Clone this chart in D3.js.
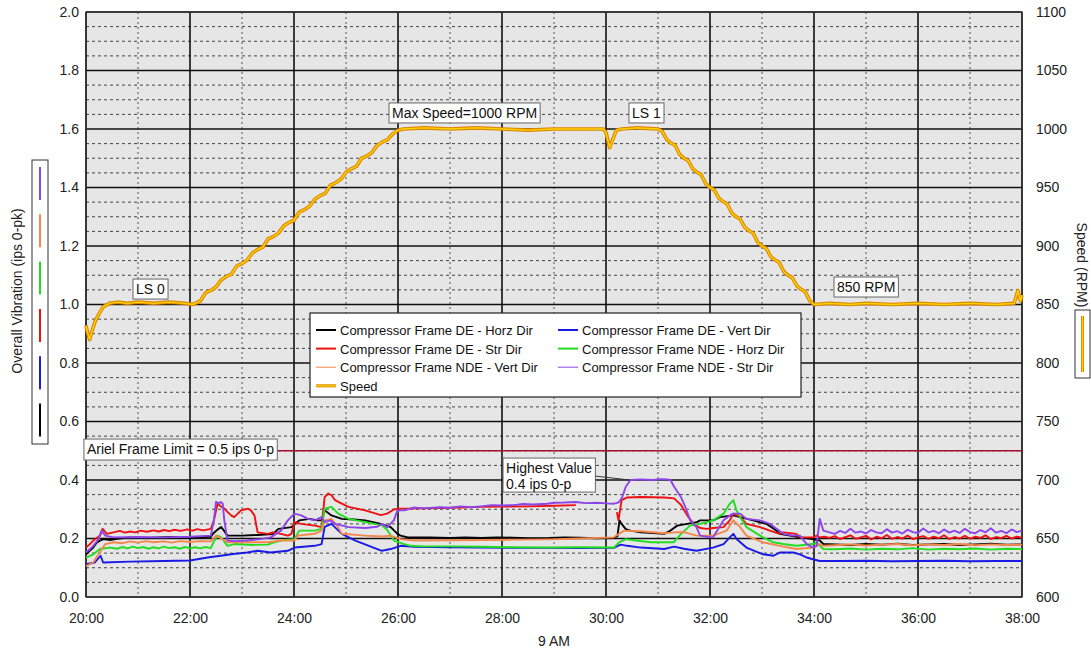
<!DOCTYPE html>
<html><head><meta charset="utf-8">
<script src="https://cdn.jsdelivr.net/npm/d3@7"></script>
<style>
body{margin:0;background:#fff;}
text{font-family:"Liberation Sans",Arial,sans-serif;}
</style>
</head><body>
<svg id="chart" width="1091" height="652"></svg>
<script>
// ---------- data ----------
const xTicks = [20,22,24,26,28,30,32,34,36,38];
const xTickLabels = ["20:00","22:00","24:00","26:00","28:00","30:00","32:00","34:00","36:00","38:00"];
const yLeftTicks = [0,0.2,0.4,0.6,0.8,1.0,1.2,1.4,1.6,1.8,2.0];
const yRightTicks = [600,650,700,750,800,850,900,950,1000,1050,1100];
const seriesNames = ["Compressor Frame DE - Horz Dir","Compressor Frame DE - Vert Dir","Compressor Frame DE - Str Dir","Compressor Frame NDE - Horz Dir","Compressor Frame NDE - Vert Dir","Compressor Frame NDE - Str Dir","Speed"];
const seriesColors = ["#000000","#1a1ae6","#ee1111","#22dd22","#f4874b","#8d44e8","#ffd400"];

const deHorz = [[20.0,.146],[20.07,.158],[20.14,.169],[20.2,.185],[20.27,.193],[20.34,.198],[20.46,.195],[20.6,.199],[20.85,.204],[21.2,.202],[21.6,.205],[22.0,.203],[22.4,.206],[22.46,.22],[22.55,.233],[22.6,.239],[22.66,.225],[22.72,.21],[23.0,.21],[23.3,.212],[23.59,.215],[23.7,.233],[23.95,.239],[24.02,.25],[24.1,.262],[24.3,.267],[24.45,.262],[24.53,.262],[24.59,.296],[24.64,.29],[24.72,.279],[24.92,.267],[25.15,.265],[25.37,.262],[25.67,.25],[25.86,.239],[25.99,.216],[26.05,.21],[26.19,.204],[26.6,.204],[27.0,.202],[27.3,.204],[27.6,.202],[27.9,.204],[28.2,.203],[28.5,.201],[28.9,.202],[29.2,.204],[29.5,.203],[29.8,.201],[30.15,.202],[30.22,.208],[30.26,.262],[30.3,.25],[30.38,.232],[30.47,.227],[30.67,.221],[30.9,.219],[31.12,.216],[31.24,.227],[31.37,.244],[31.56,.25],[31.75,.256],[31.81,.262],[32.06,.262],[32.19,.273],[32.45,.279],[32.58,.273],[32.83,.262],[33.09,.25],[33.28,.227],[33.34,.216],[33.54,.21],[33.73,.204],[33.98,.198],[34.11,.193],[34.18,.181],[34.4,.18],[34.7,.178],[35.0,.181],[35.3,.179],[35.6,.182],[35.9,.178],[36.2,.18],[36.5,.181],[36.8,.178],[37.1,.18],[37.4,.182],[37.7,.179],[38.0,.18]];

const deVert = [[20.0,.112],[20.17,.118],[20.28,.141],[20.33,.118],[20.85,.121],[21.5,.123],[22.0,.125],[22.34,.135],[22.59,.141],[22.79,.146],[23.1,.152],[23.3,.158],[23.55,.152],[23.88,.158],[24.01,.169],[24.4,.175],[24.53,.181],[24.59,.24],[24.72,.25],[24.92,.216],[25.18,.193],[25.44,.175],[25.69,.158],[25.86,.164],[26.05,.175],[26.31,.172],[27.0,.17],[27.59,.169],[28.2,.168],[28.87,.168],[29.5,.167],[30.15,.168],[30.28,.179],[30.41,.175],[30.67,.169],[31.12,.164],[31.31,.172],[31.5,.165],[31.74,.158],[32.06,.169],[32.26,.181],[32.38,.204],[32.45,.216],[32.51,.198],[32.7,.169],[33.02,.146],[33.22,.141],[33.34,.152],[33.6,.152],[33.73,.146],[33.86,.135],[33.98,.129],[34.11,.123],[34.5,.123],[35.0,.124],[35.5,.122],[36.0,.123],[36.5,.124],[37.0,.122],[37.5,.123],[38.0,.123]];

const deStr = [[20.0,.169],[20.07,.18],[20.14,.193],[20.27,.21],[20.32,.233],[20.4,.216],[20.53,.221],[20.65,.226],[20.75,.22],[20.85,.224],[20.95,.221],[21.05,.227],[21.17,.223],[21.3,.228],[21.4,.224],[21.5,.229],[21.6,.225],[21.7,.23],[21.82,.226],[21.95,.231],[22.05,.227],[22.14,.232],[22.25,.228],[22.4,.233],[22.46,.262],[22.53,.319],[22.59,.31],[22.66,.302],[22.72,.291],[22.79,.279],[22.85,.273],[22.92,.285],[22.98,.296],[23.05,.299],[23.12,.302],[23.17,.296],[23.24,.279],[23.3,.221],[23.5,.216],[23.59,.221],[23.75,.216],[23.88,.21],[23.95,.216],[24.01,.256],[24.14,.25],[24.4,.244],[24.53,.239],[24.59,.342],[24.66,.354],[24.72,.348],[24.79,.331],[24.92,.319],[25.05,.308],[25.37,.296],[25.67,.28],[25.79,.285],[25.92,.299],[26.0,.302],[26.2,.302],[26.5,.303],[26.8,.304],[27.2,.306],[27.59,.308],[28.0,.309],[28.5,.31],[29.0,.312],[29.42,.314],[29.43,null],[30.2,null],[30.21,.29],[30.24,.262],[30.3,.331],[30.4,.34],[30.67,.342],[30.9,.341],[31.12,.34],[31.31,.337],[31.44,.315],[31.56,.28],[31.68,.25],[31.81,.236],[31.94,.233],[32.06,.236],[32.26,.239],[32.38,.262],[32.45,.285],[32.58,.273],[32.7,.25],[32.96,.239],[33.15,.227],[33.34,.216],[33.41,.221],[33.66,.216],[33.73,.204],[33.98,.204],[34.05,.21],[34.11,.204],[34.2,.206],[34.3,.202],[34.4,.208],[34.5,.198],[34.6,.205],[34.7,.211],[34.8,.199],[34.9,.204],[35.0,.209],[35.1,.197],[35.2,.206],[35.3,.201],[35.4,.212],[35.5,.199],[35.6,.205],[35.7,.2],[35.8,.21],[35.9,.198],[36.0,.204],[36.1,.208],[36.2,.199],[36.3,.206],[36.4,.201],[36.5,.211],[36.6,.198],[36.7,.205],[36.8,.2],[36.9,.209],[37.0,.199],[37.1,.206],[37.2,.202],[37.3,.211],[37.4,.198],[37.5,.205],[37.6,.201],[37.7,.209],[37.8,.2],[37.9,.206],[38.0,.203]];

const ndeHorz = [[20.0,.135],[20.14,.146],[20.27,.164],[20.46,.169],[20.6,.165],[20.7,.171],[20.8,.166],[20.9,.172],[21.0,.167],[21.1,.171],[21.2,.165],[21.3,.17],[21.4,.166],[21.5,.172],[21.6,.167],[21.7,.17],[21.8,.165],[21.9,.171],[22.0,.166],[22.1,.17],[22.2,.166],[22.3,.171],[22.4,.167],[22.46,.19],[22.53,.21],[22.6,.204],[22.72,.175],[22.85,.181],[23.2,.178],[23.5,.179],[23.59,.185],[23.75,.193],[23.88,.196],[24.01,.198],[24.1,.227],[24.4,.227],[24.53,.233],[24.59,.302],[24.72,.308],[24.85,.285],[25.05,.267],[25.37,.256],[25.69,.245],[25.79,.23],[25.92,.193],[26.12,.181],[26.24,.175],[26.5,.173],[27.0,.173],[27.59,.172],[28.2,.17],[28.87,.169],[29.5,.17],[30.15,.169],[30.25,.187],[30.38,.198],[30.57,.193],[30.86,.187],[31.3,.187],[31.44,.215],[31.62,.245],[31.81,.25],[32.06,.262],[32.26,.285],[32.38,.319],[32.45,.331],[32.51,.296],[32.58,.273],[32.7,.239],[33.02,.204],[33.22,.187],[33.41,.181],[33.66,.175],[33.98,.181],[34.05,.187],[34.11,.175],[34.18,.164],[34.4,.163],[34.7,.166],[35.0,.162],[35.3,.165],[35.6,.163],[35.9,.167],[36.2,.162],[36.5,.165],[36.8,.163],[37.1,.166],[37.4,.162],[37.7,.165],[38.0,.164]];

const ndeVert = [[20.0,.106],[20.14,.118],[20.24,.146],[20.37,.181],[20.53,.187],[20.7,.184],[20.85,.19],[21.0,.186],[21.15,.191],[21.3,.187],[21.5,.19],[21.65,.186],[21.8,.191],[22.0,.188],[22.2,.191],[22.4,.19],[22.5,.21],[22.6,.2],[22.72,.187],[23.0,.187],[23.5,.187],[23.75,.193],[24.01,.193],[24.07,.21],[24.4,.216],[24.53,.227],[24.59,.262],[24.72,.267],[24.85,.239],[24.92,.216],[25.37,.21],[25.69,.207],[25.86,.21],[26.05,.198],[26.31,.193],[27.0,.194],[27.59,.195],[28.2,.196],[28.87,.197],[29.5,.2],[30.15,.204],[30.25,.216],[30.35,.227],[30.67,.225],[31.12,.218],[31.31,.221],[31.5,.222],[31.74,.21],[32.06,.21],[32.32,.227],[32.45,.262],[32.58,.239],[32.7,.21],[33.02,.187],[33.34,.175],[33.66,.164],[33.98,.169],[34.11,.181],[34.18,.175],[34.4,.177],[34.7,.18],[35.0,.176],[35.3,.179],[35.6,.181],[35.9,.177],[36.2,.18],[36.5,.178],[36.8,.181],[37.1,.177],[37.4,.18],[37.7,.178],[38.0,.179]];

const ndeStr = [[20.0,.152],[20.07,.163],[20.14,.175],[20.24,.198],[20.3,.227],[20.37,.21],[20.53,.204],[21.0,.205],[21.5,.204],[22.0,.206],[22.4,.21],[22.46,.262],[22.5,.325],[22.55,.32],[22.59,.325],[22.63,.319],[22.66,.262],[22.7,.216],[22.72,.193],[22.85,.191],[23.1,.193],[23.35,.198],[23.55,.204],[23.75,.227],[23.88,.262],[24.01,.285],[24.14,.279],[24.27,.267],[24.4,.262],[24.53,.273],[24.59,.256],[24.69,.262],[24.79,.25],[25.05,.239],[25.37,.236],[25.6,.24],[25.69,.25],[25.79,.239],[25.92,.262],[25.99,.296],[26.12,.296],[26.31,.306],[26.5,.303],[26.8,.307],[27.0,.305],[27.2,.31],[27.4,.307],[27.59,.31],[27.8,.314],[28.0,.313],[28.23,.314],[28.4,.318],[28.6,.316],[28.87,.319],[29.0,.322],[29.2,.323],[29.42,.325],[29.6,.321],[29.83,.322],[30.0,.32],[30.15,.319],[30.22,.322],[30.25,.325],[30.31,.34],[30.38,.377],[30.47,.4],[30.67,.402],[30.9,.4],[31.05,.403],[31.18,.402],[31.24,.4],[31.31,.377],[31.44,.342],[31.52,.31],[31.62,.262],[31.74,.239],[31.81,.21],[32.0,.204],[32.06,.204],[32.26,.262],[32.38,.279],[32.45,.285],[32.58,.285],[32.7,.267],[32.96,.262],[33.15,.25],[33.28,.233],[33.41,.216],[33.6,.21],[33.73,.21],[33.86,.181],[33.98,.169],[34.05,.175],[34.11,.267],[34.18,.227],[34.3,.221],[34.4,.216],[34.5,.226],[34.6,.219],[34.7,.233],[34.8,.22],[34.9,.224],[35.0,.217],[35.1,.229],[35.2,.221],[35.3,.218],[35.4,.232],[35.5,.22],[35.6,.225],[35.7,.217],[35.8,.23],[35.9,.222],[36.0,.219],[36.1,.234],[36.2,.221],[36.3,.226],[36.4,.218],[36.5,.231],[36.6,.22],[36.7,.227],[36.8,.219],[36.9,.233],[37.0,.222],[37.1,.218],[37.2,.229],[37.3,.221],[37.4,.235],[37.5,.22],[37.6,.226],[37.7,.218],[37.8,.231],[37.9,.222],[38.0,.227]];

const speed = [[20.0,832],[20.03,826],[20.07,820],[20.12,828],[20.18,836],[20.25,842],[20.33,848],[20.45,851],[20.6,852],[20.8,851],[21.0,852],[21.3,851],[21.6,852],[21.9,851],[22.05,850],[22.1,851],[22.2,853],[22.3,860],[22.4,862],[22.5,865],[22.6,871],[22.7,874],[22.8,876],[22.9,883],[23.0,885],[23.1,888],[23.2,894],[23.3,897],[23.4,899],[23.5,906],[23.6,908],[23.7,911],[23.8,917],[23.9,920],[24.0,922],[24.1,929],[24.2,931],[24.3,934],[24.4,940],[24.5,943],[24.6,945],[24.7,952],[24.8,954],[24.9,957],[25.0,963],[25.1,966],[25.2,968],[25.3,975],[25.4,977],[25.5,980],[25.6,986],[25.7,989],[25.8,991],[25.9,996],[26.0,999],[26.1,1000],[26.5,1001],[27.0,1000],[27.5,1001],[28.0,1000],[28.5,999],[29.0,1000],[29.5,1000],[29.95,1000],[30.0,997],[30.07,984],[30.12,990],[30.2,999],[30.3,1000],[30.6,1001],[31.0,1000],[31.08,998],[31.17,991],[31.25,988],[31.33,986],[31.42,978],[31.5,975],[31.58,973],[31.67,966],[31.75,963],[31.83,961],[31.92,953],[32.0,950],[32.08,948],[32.17,941],[32.25,938],[32.33,936],[32.42,928],[32.5,925],[32.58,923],[32.67,916],[32.75,913],[32.83,911],[32.92,903],[33.0,900],[33.08,898],[33.17,891],[33.25,888],[33.33,886],[33.42,878],[33.5,875],[33.58,873],[33.67,866],[33.75,863],[33.83,861],[33.92,853],[34.0,850],[34.3,851],[34.7,850],[35.0,851],[35.5,850],[36.0,851],[36.5,850],[37.0,851],[37.5,850],[37.85,851],[37.92,862],[37.97,853],[38.0,858]];

const vibSeries = [deHorz, deVert, deStr, ndeHorz, ndeVert, ndeStr];
const frameLimit = 0.5;

// annotation texts
const annoLS0 = ["LS 0"];
const annoMax = ["Max Speed=1000 RPM"];
const annoLS1 = ["LS 1"];
const anno850 = ["850 RPM"];
const annoLimit = ["Ariel Frame Limit = 0.5 ips 0-p"];
const annoHigh = ["Highest Value","0.4 ips 0-p"];

// ---------- layout ----------
const L = 86, R = 1022, T = 12, B = 597;
const svg = d3.select("#chart");
const x = d3.scaleLinear().domain([20,38]).range([L,R]);
const y = d3.scaleLinear().domain([0,2]).range([B,T]);
const y2 = d3.scaleLinear().domain([600,1100]).range([B,T]);

svg.append("rect").attr("x",L).attr("y",T).attr("width",R-L).attr("height",B-T).attr("fill","#e6e6e6");

// grid
const g = svg.append("g");
const minorY = d3.range(0,41).map(i=>i*0.05).filter((v,i)=>i%4!==0);
g.selectAll(".hmin").data(minorY).join("line")
  .attr("x1",L).attr("x2",R).attr("y1",d=>y(d)).attr("y2",d=>y(d))
  .attr("stroke","#444").attr("stroke-width",1).attr("stroke-dasharray","3,3");
const minorX = d3.range(21,38,2);
g.selectAll(".vmin").data(minorX).join("line")
  .attr("x1",d=>x(d)).attr("x2",d=>x(d)).attr("y1",T).attr("y2",B)
  .attr("stroke","#555").attr("stroke-width",1).attr("stroke-dasharray","2,3");
g.selectAll(".hmaj").data(yLeftTicks).join("line")
  .attr("x1",L).attr("x2",R).attr("y1",d=>y(d)).attr("y2",d=>y(d))
  .attr("stroke","#111").attr("stroke-width",1.6);
g.selectAll(".vmaj").data(xTicks).join("line")
  .attr("x1",d=>x(d)).attr("x2",d=>x(d)).attr("y1",T).attr("y2",B)
  .attr("stroke","#111").attr("stroke-width",1.6);
svg.append("rect").attr("x",L).attr("y",T).attr("width",R-L).attr("height",B-T)
  .attr("fill","none").attr("stroke","#333").attr("stroke-width",1.2);

// axes
const axL = svg.append("g").attr("transform",`translate(${L},0)`)
  .call(d3.axisLeft(y).tickValues(yLeftTicks).tickFormat(d3.format(".1f")).tickSize(0).tickPadding(7));
const axR = svg.append("g").attr("transform",`translate(${R},0)`)
  .call(d3.axisRight(y2).tickValues(yRightTicks).tickFormat(d3.format("d")).tickSize(0).tickPadding(14));
const axB = svg.append("g").attr("transform",`translate(0,${B})`)
  .call(d3.axisBottom(x).tickValues(xTicks).tickFormat((d,i)=>xTickLabels[i]).tickSize(0).tickPadding(16));
[axL,axR,axB].forEach(a=>{a.select(".domain").remove();a.selectAll("text").attr("font-size",14).attr("fill","#222").attr("font-family","Liberation Sans, Arial, sans-serif");});

svg.append("text").attr("x",(L+R)/2).attr("y",646).attr("text-anchor","middle").attr("font-size",14).attr("fill","#222").text("9 AM");

// frame limit line
svg.append("line").attr("x1",L).attr("x2",R).attr("y1",y(frameLimit)).attr("y2",y(frameLimit))
  .attr("stroke","#a3112e").attr("stroke-width",1.6);

// vibration lines
const line = d3.line().defined(d=>d[1]!==null).x(d=>x(d[0])).y(d=>y(d[1]));
vibSeries.forEach((s,i)=>{
  svg.append("path").datum(s).attr("d",line).attr("fill","none")
    .attr("stroke",seriesColors[i]).attr("stroke-width",1.9).attr("stroke-linejoin","round");
});

// speed line (orange outline, yellow core)
const sLine = d3.line().x(d=>x(d[0])).y(d=>y2(d[1]));
svg.append("path").datum(speed).attr("d",sLine).attr("fill","none").attr("stroke","#dd8400").attr("stroke-width",3.6).attr("stroke-linejoin","round");
svg.append("path").datum(speed).attr("d",sLine).attr("fill","none").attr("stroke","#ffd400").attr("stroke-width",1.4).attr("stroke-linejoin","round");

// annotation helper
function annotate(lines, t, v, opts={}){
  const gA = svg.append("g");
  const px = x(t), py = y(v);
  const lh = 16;
  const txt = gA.append("text").attr("font-size",14).attr("fill","#111");
  lines.forEach((ln,i)=>txt.append("tspan").attr("x",px+(opts.pad||3)).attr("y",py+15+i*lh).text(ln));
  const bb = txt.node().getBBox();
  const w = opts.w || (bb.width+2*(opts.pad||3));
  const h = opts.h || (lines.length===1?20:34);
  gA.insert("rect","text").attr("x",px).attr("y",py).attr("width",w).attr("height",h)
    .attr("fill","#fff").attr("stroke","#666").attr("stroke-width",1);
  return {x:px,y:py,w:w,h:h};
}
annotate(annoLS0, 20.904, 1.087);
annotate(annoMax, 25.827, 1.689);
annotate(annoLS1, 30.442, 1.689);
annotate(anno850, 34.385, 1.094);
annotate(annoLimit, 19.96, 0.540, {h:21});
const hb = annotate(annoHigh, 28.02, 0.475, {h:34});
svg.append("line").attr("x1",hb.x+hb.w).attr("y1",hb.y+18).attr("x2",x(30.45)).attr("y2",y(0.40))
  .attr("stroke","#333").attr("stroke-width",1);

// central legend
const lg = svg.append("g");
lg.append("rect").attr("x",310).attr("y",313).attr("width",491).attr("height",84)
  .attr("fill","#fff").attr("stroke","#222").attr("stroke-width",1.2);
const legendOrder = [0,1,2,3,4,5,6];
legendOrder.forEach((si,k)=>{
  const col = k%2, row = Math.floor(k/2);
  const lx = col===0?316:558, ly = 330+row*18.6;
  if(si===6){
    lg.append("line").attr("x1",lx).attr("x2",lx+20).attr("y1",ly).attr("y2",ly).attr("stroke","#dd8400").attr("stroke-width",3);
    lg.append("line").attr("x1",lx).attr("x2",lx+20).attr("y1",ly).attr("y2",ly).attr("stroke","#ffd400").attr("stroke-width",1.2);
  } else {
    lg.append("line").attr("x1",lx).attr("x2",lx+20).attr("y1",ly).attr("y2",ly)
      .attr("stroke",seriesColors[si]).attr("stroke-width",(si===4||si===5)?1:2);
  }
  lg.append("text").attr("x",lx+24).attr("y",ly+5).attr("font-size",13).attr("fill","#111").text(seriesNames[si]);
});

// left axis title and colour key
svg.append("text").attr("transform","translate(22,291) rotate(-90)").attr("text-anchor","middle")
  .attr("font-size",14).attr("fill","#222").text("Overall Vibration (ips 0-pk)");
svg.append("rect").attr("x",32).attr("y",160).attr("width",16).attr("height",284).attr("fill","#fff").attr("stroke","#333").attr("stroke-width",1);
const keyOrder = [5,4,3,2,1,0];
keyOrder.forEach((si,k)=>{
  svg.append("line").attr("x1",40).attr("x2",40).attr("y1",167+k*47.3).attr("y2",200+k*47.3)
    .attr("stroke",seriesColors[si]).attr("stroke-width",2);
});

// right axis title and key
svg.append("text").attr("transform","translate(1077,265) rotate(90)").attr("text-anchor","middle")
  .attr("font-size",14).attr("fill","#222").text("Speed (RPM)");
svg.append("rect").attr("x",1075).attr("y",310).attr("width",15).attr("height",68).attr("fill","#fff").attr("stroke","#333").attr("stroke-width",1);
svg.append("line").attr("x1",1082.5).attr("x2",1082.5).attr("y1",316).attr("y2",372).attr("stroke","#dd8400").attr("stroke-width",3);
svg.append("line").attr("x1",1082.5).attr("x2",1082.5).attr("y1",316).attr("y2",372).attr("stroke","#ffd400").attr("stroke-width",1.2);
</script>
</body></html>
